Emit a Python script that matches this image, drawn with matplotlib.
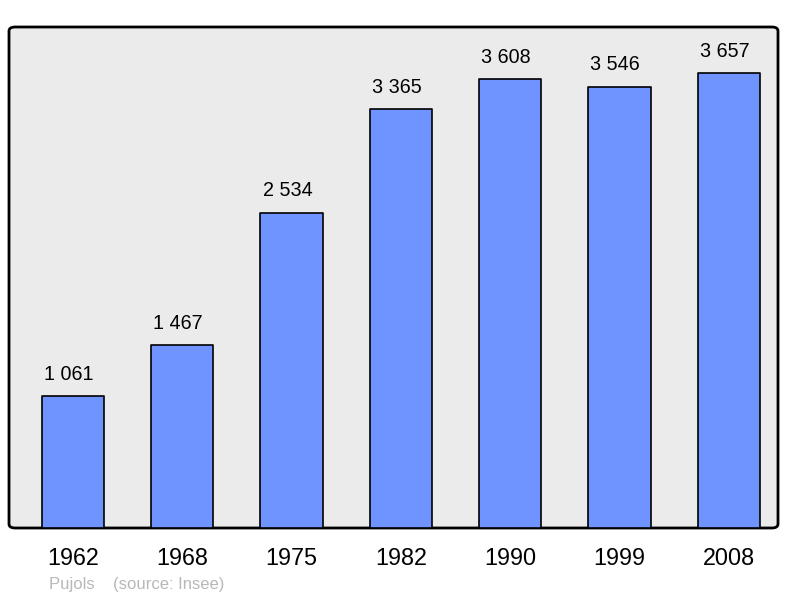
import matplotlib
matplotlib.use("Agg")
import matplotlib.pyplot as plt
from matplotlib.patches import FancyBboxPatch

years = ["1962", "1968", "1975", "1982", "1990", "1999", "2008"]
population = [1061, 1467, 2534, 3365, 3608, 3546, 3657]
labels = ["1 061", "1 467", "2 534", "3 365", "3 608", "3 546", "3 657"]

plt.rcParams['font.family'] = ['Liberation Sans', 'DejaVu Sans']

fig = plt.figure(figsize=(8, 5.98), dpi=100)
W, H = 800, 598
ax = fig.add_axes([9 / W, 1 - 528 / H, (778 - 9) / W, (528 - 27) / H])
ax.set_facecolor('none')
for s in ax.spines.values():
    s.set_visible(False)

bg = FancyBboxPatch((0, 0), 1, 1, boxstyle="round,pad=0,rounding_size=0.008",
                    transform=ax.transAxes, facecolor='#ebebeb', edgecolor='black',
                    linewidth=2, zorder=0, clip_on=False)
ax.add_patch(bg)

x = list(range(len(years)))
bars = ax.bar(x, population, width=0.57, color='#7094ff', edgecolor='black',
              linewidth=1.2, zorder=2)
for b in bars:
    b.set_joinstyle('round')

for xi, v, lab in zip(x, population, labels):
    ax.annotate(lab, (xi, v), xytext=(-3, 9), textcoords='offset points',
                ha='center', va='bottom', fontsize=14.2, color='black')

ax.set_xlim(-0.585, 6.45)
ax.set_ylim(0, 4027)
ax.set_yticks([])
ax.set_xticks(x)
ax.set_xticklabels(years, fontsize=16.8)
ax.tick_params(axis='x', length=0, pad=14)
for t in ax.get_xticklabels():
    t.set_x(t.get_position()[0])

fig.text(49 / W, 1 - 584 / H, "Pujols    (source: Insee)", fontsize=12,
         color='#b8b8b8', ha='left', va='center')

fig.savefig("out.png", dpi=100, facecolor='white')
